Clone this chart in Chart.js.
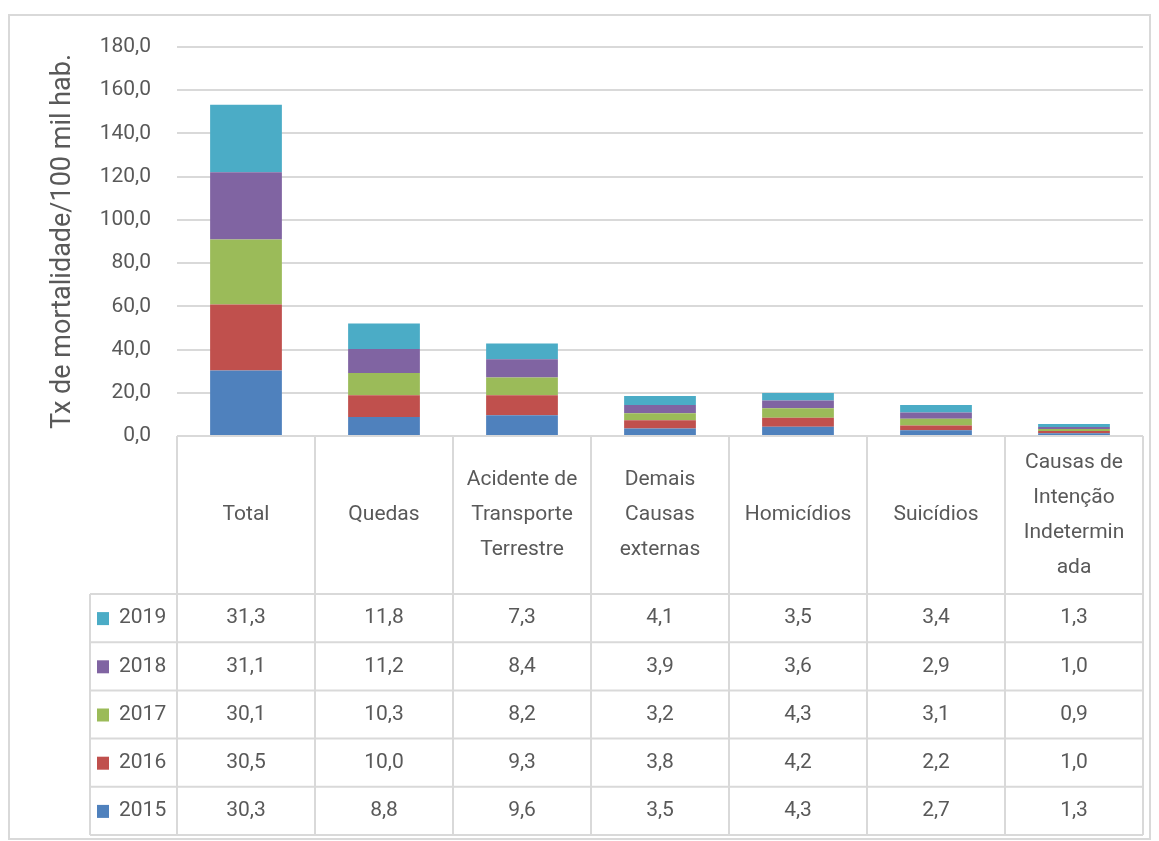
<!DOCTYPE html>
<html>
<head>
<meta charset="utf-8">
<script src="https://cdn.jsdelivr.net/npm/chart.js@4/dist/chart.umd.min.js"></script>
<style>
  html, body { margin: 0; padding: 0; background: #fff; }
  #wrap { width: 1159px; height: 841px; position: relative; }
</style>
</head>
<body>
<div id="wrap"><canvas id="chart" width="1159" height="841"></canvas></div>
<script>
// --- data ---
const categories = [
  ['Total'],
  ['Quedas'],
  ['Acidente de', 'Transporte', 'Terrestre'],
  ['Demais', 'Causas', 'externas'],
  ['Homicídios'],
  ['Suicídios'],
  ['Causas de', 'Intenção', 'Indetermin', 'ada']
];
const years   = ['2015', '2016', '2017', '2018', '2019'];
const v2015 = [30.3, 8.8, 9.6, 3.5, 4.3, 2.7, 1.3];
const v2016 = [30.5, 10.0, 9.3, 3.8, 4.2, 2.2, 1.0];
const v2017 = [30.1, 10.3, 8.2, 3.2, 4.3, 3.1, 0.9];
const v2018 = [31.1, 11.2, 8.4, 3.9, 3.6, 2.9, 1.0];
const v2019 = [31.3, 11.8, 7.3, 4.1, 3.5, 3.4, 1.3];
const colors  = ['#4f81bd', '#c0504d', '#9bbb59', '#8064a2', '#4bacc6'];
const yTitle  = 'Tx de mortalidade/100 mil hab.';

const series = [v2015, v2016, v2017, v2018, v2019];
const fmt = v => v.toFixed(1).replace('.', ',');

const FONT = 'Roboto, "Open Sans", sans-serif';
const TEXT = '#595959';
const LINE = '#d9d9d9';

// table geometry
const HEADER_H = 158;
const ROW_H = 48.2;
const LEGEND_LEFT = 90;

const tablePlugin = {
  id: 'dataTable',
  afterDraw(chart) {
    const ctx = chart.ctx;
    const xs = chart.scales.x;
    const area = chart.chartArea;
    const step = xs.getPixelForValue(1) - xs.getPixelForValue(0);
    const top = area.bottom;
    const left = area.left, right = area.right;
    const rowsTop = top + HEADER_H;
    const bottom = rowsTop + ROW_H * years.length;

    ctx.save();
    // outer frame
    ctx.strokeStyle = LINE;
    ctx.lineWidth = 2;
    ctx.strokeRect(9, 15, 1141, 824);

    // grid of the data table
    ctx.beginPath();
    ctx.moveTo(left, top); ctx.lineTo(right, top);
    for (let r = 0; r <= years.length; r++) {
      const y = rowsTop + r * ROW_H;
      ctx.moveTo(LEGEND_LEFT, y); ctx.lineTo(right, y);
    }
    for (let c = 0; c <= categories.length; c++) {
      const x = left + c * step;
      ctx.moveTo(x, top); ctx.lineTo(x, bottom);
    }
    ctx.moveTo(LEGEND_LEFT, rowsTop); ctx.lineTo(LEGEND_LEFT, bottom);
    ctx.stroke();

    ctx.fillStyle = TEXT;
    ctx.font = '21px ' + FONT;
    ctx.textAlign = 'center';
    ctx.textBaseline = 'middle';

    // header labels
    const lh = 35;
    categories.forEach((lines, i) => {
      const cx = xs.getPixelForValue(i);
      const cy = top + HEADER_H / 2;
      const y0 = cy - (lines.length - 1) * lh / 2;
      lines.forEach((t, k) => ctx.fillText(t, cx, y0 + k * lh));
    });

    // rows: top row is 2019, bottom is 2015
    for (let r = 0; r < years.length; r++) {
      const si = years.length - 1 - r;
      const cy = rowsTop + r * ROW_H + ROW_H / 2;
      ctx.fillStyle = colors[si];
      ctx.fillRect(97, cy - 6, 12, 13);
      ctx.fillStyle = TEXT;
      ctx.textAlign = 'left';
      ctx.fillText(years[si], 119, cy);
      ctx.textAlign = 'center';
      series[si].forEach((v, i) => ctx.fillText(fmt(v), xs.getPixelForValue(i), cy));
    }
    ctx.restore();
  }
};

new Chart(document.getElementById('chart'), {
  type: 'bar',
  data: {
    labels: categories.map(c => c.join(' ')),
    datasets: years.map((y, i) => ({
      label: y,
      data: series[i],
      backgroundColor: colors[i],
      borderWidth: 0,
      barPercentage: 0.52,
      categoryPercentage: 1
    }))
  },
  options: {
    responsive: false,
    animation: false,
    layout: { padding: { left: 0, right: 16, top: 47, bottom: 405 } },
    plugins: {
      legend: { display: false },
      tooltip: { enabled: false }
    },
    scales: {
      x: { stacked: true, display: false },
      y: {
        stacked: true,
        min: 0, max: 180,
        afterFit: s => { s.width = 177; },
        border: { display: false },
        grid: { color: LINE, lineWidth: 2, drawTicks: false },
        ticks: {
          stepSize: 20, padding: 26, color: TEXT,
          font: { family: FONT, size: 21 },
          callback: v => fmt(v)
        },
        title: {
          display: true, text: yTitle, color: TEXT,
          font: { family: FONT, size: 27 },
          padding: { top: 47, bottom: 0 }
        }
      }
    }
  },
  plugins: [tablePlugin]
});
</script>
</body>
</html>
